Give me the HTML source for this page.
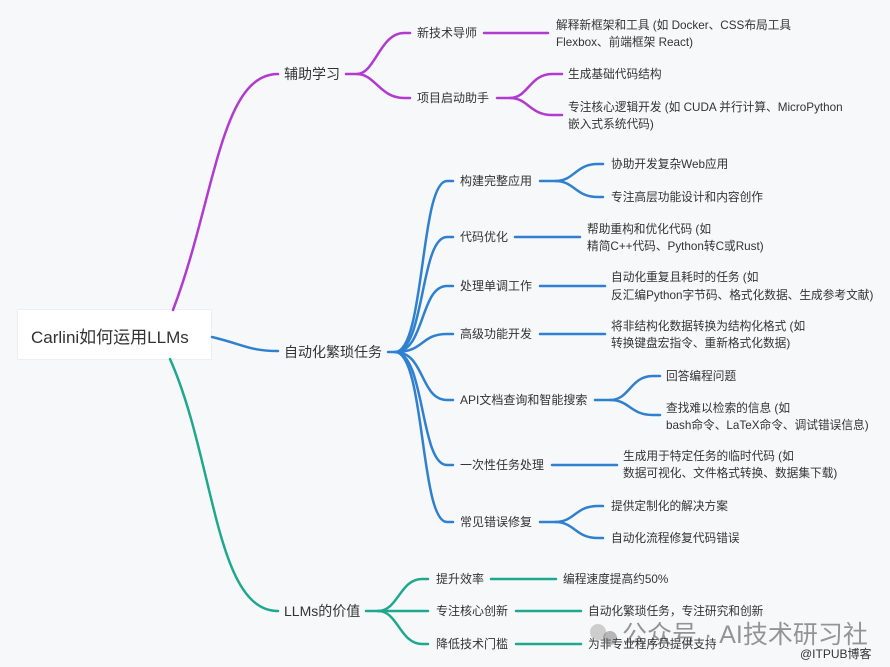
<!DOCTYPE html>
<html><head><meta charset="utf-8"><style>
html,body{margin:0;padding:0;background:#f7f8fa;}
svg{display:block;}
text{font-family:"Liberation Sans","Noto Sans CJK SC",sans-serif;fill:#333;}
.l1{font-size:14px;}
.l2{font-size:12px;}
.l3{font-size:11.7px;}
</style></head><body>
<svg width="890" height="667" viewBox="0 0 890 667" xmlns="http://www.w3.org/2000/svg">
<rect width="890" height="667" fill="#f7f8fa"/>
<rect x="17" y="309" width="195" height="51" fill="#eceef1"/>
<rect x="18" y="310" width="193" height="49" fill="#ffffff"/>
<text x="31" y="343" style="font-size:17px" fill="#333">Carlini如何运用LLMs</text>

<g fill="none" stroke-width="2.5" stroke-linecap="round">
<g stroke="#b13bd0">
<path d="M173,310 C215,200 220,74 278,74"/>
<path d="M346,74 L357,74 C375,74 380,33 404,33 L410,33"/>
<path d="M357,74 C375,74 380,98 404,98 L410,98"/>
<path d="M484,33 L548,33"/>
<path d="M497,98 L510,98 C528,98 530,74 552,74 L562,74"/>
<path d="M510,98 C528,98 530,115 552,115 L562,115"/>
</g>
<g stroke="#2f80d0">
<path d="M212,337 C245,345 250,351 278,351"/>
<path d="M388,352 L395,352"/>
<path d="M395,352 C425,352 420,181 447,181 L453,181"/>
<path d="M395,352 C425,352 420,237 447,237 L453,237"/>
<path d="M395,352 C425,352 420,286 447,286 L453,286"/>
<path d="M395,352 C425,352 420,334 447,334 L453,334"/>
<path d="M395,352 C425,352 420,400 447,400 L453,400"/>
<path d="M395,352 C425,352 420,465 447,465 L453,465"/>
<path d="M395,352 C425,352 420,522 447,522 L453,522"/>
<path d="M540,181 L555,181 C575,181 575,164 598,164 L603,164"/>
<path d="M555,181 C575,181 575,197 598,197 L603,197"/>
<path d="M515,237 L580,237"/>
<path d="M540,286 L605,286"/>
<path d="M540,334 L605,334"/>
<path d="M595,400 L610,400 C630,400 630,376 653,376 L660,376"/>
<path d="M610,400 C630,400 630,415 653,415 L660,415"/>
<path d="M552,465 L617,465"/>
<path d="M540,522 L555,522 C575,522 575,506 598,506 L603,506"/>
<path d="M555,522 C575,522 575,538 598,538 L603,538"/>
</g>
<g stroke="#1fa88e">
<path d="M170,359 C215,460 215,611 278,611"/>
<path d="M366,611 L378,611"/>
<path d="M378,611 C398,611 400,579 422,579 L428,579"/>
<path d="M378,611 L428,611"/>
<path d="M378,611 C398,611 400,644 422,644 L428,644"/>
<path d="M491,579 L556,579"/>
<path d="M516,611 L581,611"/>
<path d="M516,644 L581,644"/>
</g>
</g>

<text class="l1" x="284" y="79">辅助学习</text>
<text class="l1" x="284" y="357">自动化繁琐任务</text>
<text class="l1" x="284" y="616">LLMs的价值</text>

<text class="l2" x="417" y="37">新技术导师</text>
<text class="l2" x="417" y="102">项目启动助手</text>
<text class="l3" x="556" y="29">解释新框架和工具 (如 Docker、CSS布局工具</text>
<text class="l3" x="556" y="46">Flexbox、前端框架 React)</text>
<text class="l3" x="568" y="78">生成基础代码结构</text>
<text class="l3" x="568" y="111">专注核心逻辑开发 (如 CUDA 并行计算、MicroPython</text>
<text class="l3" x="568" y="128">嵌入式系统代码)</text>

<text class="l2" x="460" y="185">构建完整应用</text>
<text class="l2" x="460" y="241">代码优化</text>
<text class="l2" x="460" y="290">处理单调工作</text>
<text class="l2" x="460" y="338">高级功能开发</text>
<text class="l2" x="460" y="404">API文档查询和智能搜索</text>
<text class="l2" x="460" y="469">一次性任务处理</text>
<text class="l2" x="460" y="526">常见错误修复</text>

<text class="l3" x="611" y="168">协助开发复杂Web应用</text>
<text class="l3" x="611" y="201">专注高层功能设计和内容创作</text>
<text class="l3" x="587" y="233">帮助重构和优化代码 (如</text>
<text class="l3" x="587" y="250">精简C++代码、Python转C或Rust)</text>
<text class="l3" x="611" y="281">自动化重复且耗时的任务 (如</text>
<text class="l3" x="611" y="299">反汇编Python字节码、格式化数据、生成参考文献)</text>
<text class="l3" x="611" y="330">将非结构化数据转换为结构化格式 (如</text>
<text class="l3" x="611" y="347">转换键盘宏指令、重新格式化数据)</text>
<text class="l3" x="666" y="380">回答编程问题</text>
<text class="l3" x="666" y="412">查找难以检索的信息 (如</text>
<text class="l3" x="666" y="429">bash命令、LaTeX命令、调试错误信息)</text>
<text class="l3" x="623" y="460">生成用于特定任务的临时代码 (如</text>
<text class="l3" x="623" y="477">数据可视化、文件格式转换、数据集下载)</text>
<text class="l3" x="611" y="510">提供定制化的解决方案</text>
<text class="l3" x="611" y="542">自动化流程修复代码错误</text>

<text class="l2" x="436" y="583">提升效率</text>
<text class="l2" x="436" y="615">专注核心创新</text>
<text class="l2" x="436" y="648">降低技术门槛</text>
<text class="l3" x="563" y="583">编程速度提高约50%</text>
<text class="l3" x="588" y="615">自动化繁琐任务，专注研究和创新</text>
<text class="l3" x="588" y="648">为非专业程序员提供支持</text>

<circle cx="598" cy="632" r="8" fill="#999" opacity="0.45"/>
<circle cx="610" cy="638" r="7" fill="#666" opacity="0.45"/>
<text x="622" y="643" style="font-size:25px" fill="#999" opacity="0.5">公众号 · AI技术研习社</text>
<text x="800" y="658" style="font-size:12px" fill="#999">@ITPUB博客</text>
</svg>
</body></html>
